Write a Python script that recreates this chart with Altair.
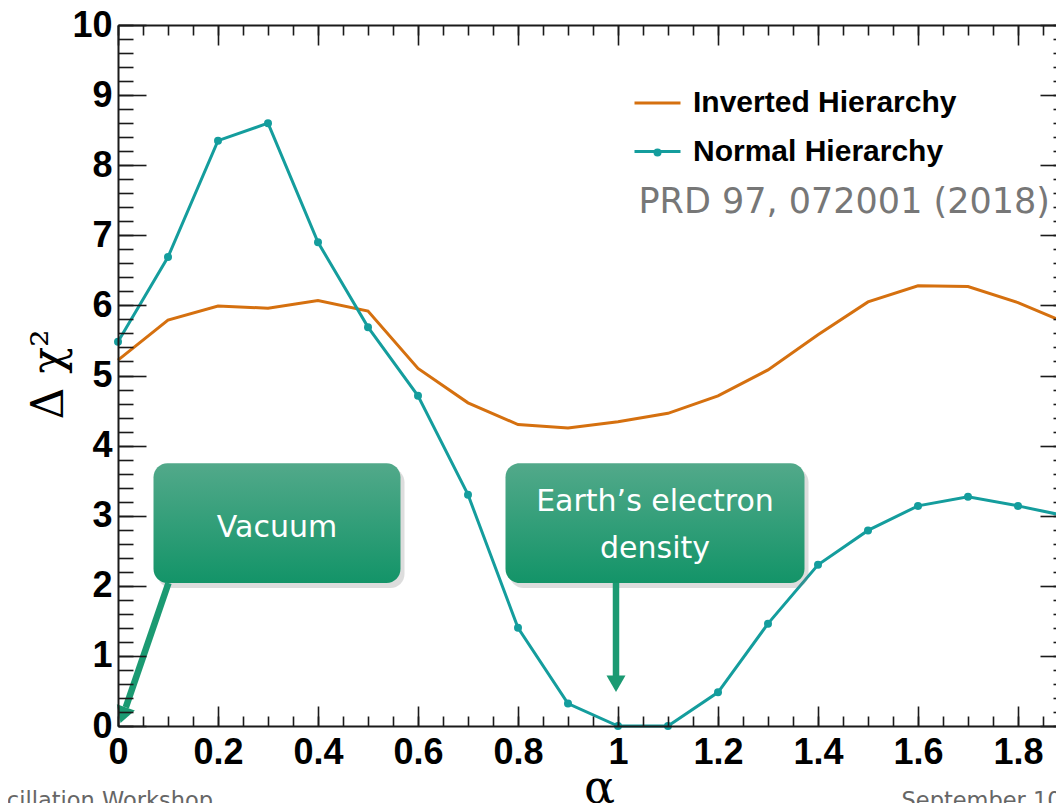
import altair as alt
import pandas as pd

# ---------------- data ----------------
alpha = [0.0, 0.1, 0.2, 0.3, 0.4, 0.5, 0.6, 0.7, 0.8, 0.9,
         1.0, 1.1, 1.2, 1.3, 1.4, 1.5, 1.6, 1.7, 1.8, 1.9]
ih_chi2 = [5.22, 5.79, 5.99, 5.96, 6.07, 5.92, 5.10, 4.61, 4.30, 4.25,
           4.34, 4.46, 4.71, 5.08, 5.58, 6.05, 6.28, 6.27, 6.04, 5.74]
nh_chi2 = [5.48, 6.69, 8.35, 8.60, 6.90, 5.69, 4.71, 3.30, 1.40, 0.32,
           0.00, 0.00, 0.48, 1.46, 2.30, 2.79, 3.14, 3.27, 3.14, 2.99]
series_names = ["Inverted Hierarchy", "Normal Hierarchy"]
series_colors = ["#d5700f", "#149d9d"]

x_major = [0.0, 0.2, 0.4, 0.6, 0.8, 1.0, 1.2, 1.4, 1.6, 1.8]
x_minor = [round(0.05 * i, 2) for i in range(39)]
y_major = [0, 1, 2, 3, 4, 5, 6, 7, 8, 9, 10]
y_minor = [round(0.2 * i, 1) for i in range(51)]

# annotation boxes (in data units)
box_x1 = [0.071, 0.775]
box_x2 = [0.565, 1.373]
box_y1 = [3.75, 3.75]
box_y2 = [2.04, 2.04]
box_text = ["Vacuum", "Earth\u2019s electron", "density"]
box_text_x = [0.318, 1.074, 1.074]
box_text_y = [2.70, 3.06, 2.40]
arrow_x1 = [0.101, 0.996]
arrow_y1 = [2.04, 2.04]
arrow_x2 = [0.0156, 0.996]
arrow_y2 = [0.265, 0.70]
head_x = [0.0104, 0.996]
head_y = [0.154, 0.602]
head_angle = [18.9, 0.0]

ref_text = ["PRD 97, 072001 (2018)"]
ref_x = [1.041]
ref_y = [7.32]
footer_text = ["cillation Workshop", "September 10"]
footer_x = [0.19, 1.567]
footer_y = [-1.17, -1.17]

# ---------------- tables ----------------
df_lines = pd.DataFrame({
    "alpha": alpha + alpha,
    "chi2": ih_chi2 + nh_chi2,
    "series": [series_names[0]] * len(alpha) + [series_names[1]] * len(alpha),
})
df_nh = pd.DataFrame({"alpha": alpha, "chi2": nh_chi2, "series": series_names[1]})
df_box = pd.DataFrame({"x1": box_x1, "x2": box_x2, "y1": box_y1, "y2": box_y2})
df_btxt = pd.DataFrame({"x": box_text_x, "y": box_text_y, "t": box_text})
df_arrow = pd.DataFrame({"x1": arrow_x1, "y1": arrow_y1, "x2": arrow_x2, "y2": arrow_y2})
df_head = pd.DataFrame({"x": head_x, "y": head_y, "a": head_angle})
df_ref = pd.DataFrame({"x": ref_x, "y": ref_y, "t": ref_text})
df_foot_l = pd.DataFrame({"x": footer_x[:1], "y": footer_y[:1], "t": footer_text[:1]})
df_foot_r = pd.DataFrame({"x": footer_x[1:], "y": footer_y[1:], "t": footer_text[1:]})

W_VIEW = 938          # visible part of the plot (svg must stay within the page)
W, H = 950, 701       # full plot frame (right edge lies just past the window)
AX = "#1a1a1a"
TEAL = series_colors[1]
GREEN = "#1b9a72"

xs = alt.Scale(domain=[0, 1.9], range=[0, W], nice=False, zero=False)
ys = alt.Scale(domain=[0, 10], nice=False, zero=False)


def axis(orient, values, tick=0, labels=False, domain=False, offset=0, **extra):
    kw = dict(orient=orient, values=values, labels=labels, domain=domain, grid=False,
              title=None, offset=offset, zindex=3, ticks=tick > 0)
    if tick > 0:
        kw.update(tickSize=tick, tickWidth=1.6, tickColor=AX)
    if domain:
        kw.update(domainColor=AX, domainWidth=2)
    if labels:
        kw.update(labelFont="Liberation Sans", labelFontSize=36, labelFontWeight="bold",
                  labelColor="#000000", labelFlush=False, labelOverlap=False, format="~r")
    kw.update(extra)
    return alt.Axis(**kw)


ax_x_main = axis("bottom", x_major, labels=True, domain=True, labelPadding=9,
                 title="\u03b1", titleFont="DejaVu Serif", titleFontSize=46,
                 titleFontWeight="normal", titleColor="#000000", titleX=481, titleY=76,
                 titleAlign="center", titleBaseline="alphabetic")
ax_y_main = axis("left", y_major, labels=True, domain=True, labelPadding=6,
                 title="\u0394 \u03c7\u00b2", titleFont="DejaVu Serif", titleFontSize=44,
                 titleFontWeight="normal", titleColor="#000000", titleAngle=270,
                 titleX=-69, titleY=349, titleAlign="center", titleBaseline="middle")

lines = alt.Chart(df_lines).mark_line(strokeWidth=3).encode(
    x=alt.X("alpha:Q", scale=xs, axis=ax_x_main),
    y=alt.Y("chi2:Q", scale=ys, axis=ax_y_main),
    color=alt.Color("series:N",
                    scale=alt.Scale(domain=series_names, range=series_colors),
                    legend=alt.Legend(orient="none", legendX=515, legendY=53.5,
                                      direction="vertical", title=None, padding=0,
                                      symbolType="stroke", symbolSize=2116,
                                      symbolStrokeWidth=3, rowPadding=8.5,
                                      labelFont="Liberation Sans", labelFontSize=30,
                                      labelFontWeight="bold", labelColor="#000000",
                                      labelOffset=11, labelLimit=0)),
)

# marker dot of the "Normal Hierarchy" legend entry (its own legend, no label)
points = alt.Chart(df_nh).mark_point(filled=True, size=64, color=TEAL, opacity=1).encode(
    x=alt.X("alpha:Q", scale=xs, axis=axis("top", x_major, tick=20, offset=-H)),
    y=alt.Y("chi2:Q", scale=ys, axis=axis("right", y_major, tick=28, offset=-W_VIEW)),
    shape=alt.Shape("series:N",
                    scale=alt.Scale(domain=[series_names[1]], range=["circle"]),
                    legend=alt.Legend(orient="none", legendX=515, legendY=103,
                                      direction="vertical", title=None, padding=0,
                                      symbolSize=64, symbolFillColor=TEAL,
                                      symbolStrokeColor=TEAL, symbolStrokeWidth=0,
                                      labelFontSize=49, labelExpr="''", rowPadding=0)),
)

shadow = alt.Chart(df_box).mark_rect(cornerRadius=14, color="#777777", opacity=0.25,
                                     xOffset=4, x2Offset=4, yOffset=5, y2Offset=5).encode(
    x=alt.X("x1:Q", scale=xs, axis=axis("top", x_minor, tick=10, offset=-H)),
    x2="x2:Q",
    y=alt.Y("y1:Q", scale=ys, axis=axis("right", y_minor, tick=15, offset=-W_VIEW)),
    y2="y2:Q",
)

grad = alt.LinearGradient(gradient="linear",
                          stops=[alt.GradientStop(color="#52a98a", offset=0),
                                 alt.GradientStop(color="#139468", offset=1)],
                          x1=0, x2=0, y1=0, y2=1)
boxes = alt.Chart(df_box).mark_rect(cornerRadius=14, fill=grad).encode(
    x=alt.X("x1:Q", scale=xs, axis=axis("bottom", x_major, tick=20, domain=True, offset=-H)),
    x2="x2:Q",
    y=alt.Y("y1:Q", scale=ys, axis=axis("left", y_major, tick=28, domain=True, offset=-W)),
    y2="y2:Q",
)

arrows = alt.Chart(df_arrow).mark_rule(strokeWidth=6.5, color=GREEN).encode(
    x=alt.X("x1:Q", scale=xs, axis=None), x2="x2:Q",
    y=alt.Y("y1:Q", scale=ys, axis=None), y2="y2:Q",
)
heads = alt.Chart(df_head).mark_point(shape="triangle-down", size=361, filled=True,
                                      color=GREEN, opacity=1).encode(
    x=alt.X("x:Q", scale=xs, axis=None),
    y=alt.Y("y:Q", scale=ys, axis=None),
    angle=alt.Angle("a:Q", scale=None),
)

btxt = alt.Chart(df_btxt).mark_text(font="DejaVu Sans", fontSize=30, color="white",
                                    align="center", baseline="alphabetic").encode(
    x=alt.X("x:Q", scale=xs, axis=axis("bottom", x_minor, tick=10, offset=-H)),
    y=alt.Y("y:Q", scale=ys, axis=axis("left", y_minor, tick=15, offset=-W)),
    text="t:N",
)

ref = alt.Chart(df_ref).mark_text(font="DejaVu Sans", fontSize=35, color="#777777",
                                  align="left", baseline="alphabetic").encode(
    x=alt.X("x:Q", scale=xs, axis=None),
    y=alt.Y("y:Q", scale=ys, axis=None),
    text="t:N",
)

foot_l = alt.Chart(df_foot_l).mark_text(font="DejaVu Sans", fontSize=22.5, color="#666666",
                                        align="right", baseline="alphabetic").encode(
    x=alt.X("x:Q", scale=xs, axis=None), y=alt.Y("y:Q", scale=ys, axis=None), text="t:N")
foot_r = alt.Chart(df_foot_r).mark_text(font="DejaVu Sans", fontSize=22.5, color="#666666",
                                        align="left", baseline="alphabetic").encode(
    x=alt.X("x:Q", scale=xs, axis=None), y=alt.Y("y:Q", scale=ys, axis=None), text="t:N")

chart = alt.layer(lines, points, shadow, boxes, arrows, heads, btxt, ref, foot_l, foot_r).resolve_axis(
    x="independent", y="independent"
).properties(
    width=W_VIEW, height=H,
    autosize=alt.AutoSizeParams(type="none"),
    padding={"left": 110, "top": 17, "right": 0, "bottom": 90},
    background="white",
).configure_view(stroke=None)

chart.save("out.html", embed_options={"renderer": "svg", "actions": False})
